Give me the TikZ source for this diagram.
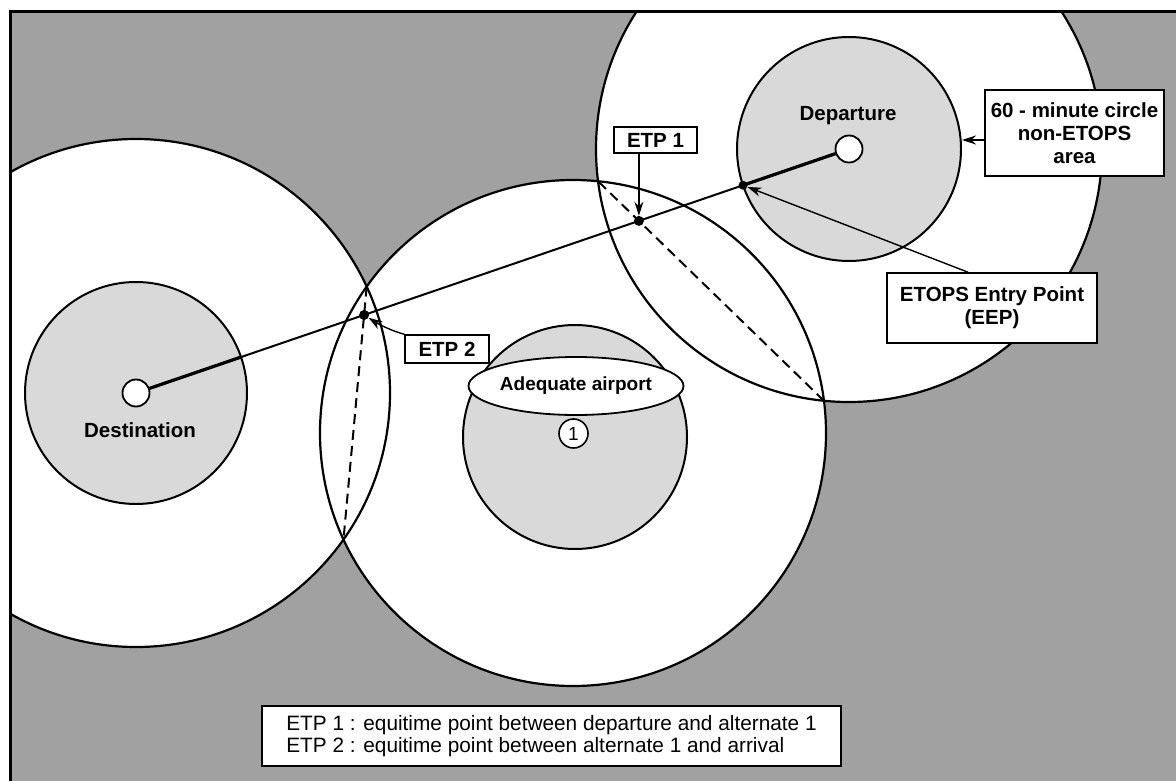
\documentclass[tikz,border=0pt]{standalone}
\usepackage{fontspec}
\setmainfont{Liberation Sans}
\usetikzlibrary{calc,intersections,arrows.meta,shapes.geometric}
\definecolor{bgdark}{gray}{0.63}
\definecolor{bglight}{gray}{0.85}
\begin{document}
\begin{tikzpicture}[x=1pt,y=-1pt,
  bigring/.style={line width=2.2pt},
  innerdisc/.style={circle,draw,line width=2pt,fill=bglight,inner sep=0pt},
  airport/.style={circle,draw,line width=1.8pt,fill=white,inner sep=0pt,minimum size=27pt},
  labelbox/.style={rectangle,draw,line width=1.6pt,fill=white,inner sep=0pt,align=center,font=\bfseries\fontsize{20.5}{23}\selectfont},
  lbl/.style={font=\bfseries\fontsize{20.5}{23}\selectfont,inner sep=0pt},
  route/.style={line width=2pt},
  routethick/.style={line width=3.2pt},
  chord/.style={line width=2pt,dash pattern=on 10pt off 6pt},
  pointer/.style={line width=1.4pt,-{Stealth[length=14pt,width=9pt]}},
  etpdot/.style={circle,fill=black,inner sep=0pt,minimum size=10pt}
]
\useasboundingbox (0,0) rectangle (1176,781);
\coordinate (D) at (136,393);
\coordinate (A) at (573,433);
\coordinate (P) at (849,149);

\path[name path global=cD] (D) circle[radius=254pt];
\path[name path global=cA] (A) circle[radius=253pt];
\path[name path global=cP] (P) circle[radius=253pt];

\begin{scope}
  \clip (10,12) rectangle (1176,781);
  \fill[bgdark] (10,12) rectangle (1176,781);
  \fill[white] (D) circle[radius=254pt];
  \fill[white] (A) circle[radius=253pt];
  \fill[white] (P) circle[radius=253pt];
  \draw[bigring] (D) circle[radius=254pt] (A) circle[radius=253pt] (P) circle[radius=253pt];
  \node[innerdisc,minimum size=222pt] (destin) at (D) {};
  \node[innerdisc,minimum size=224pt] (altin) at (575,437) {};
  \node[innerdisc,minimum size=224pt] (depin) at (P) {};
\end{scope}

% equitime chords
\path[name intersections={of=cP and cA,by={pa1,pa2}}];
\path[name intersections={of=cD and cA,by={da1,da2}}];
\draw[chord,name path=chord1] (pa1) -- (pa2);
\draw[chord,name path=chord2] (da1) -- (da2);

% airports
\node[airport] (dep) at (P) {};
\node[airport] (dest) at (D) {};

% route
\path[name path=routepath] (D) -- (P);
\path[name intersections={of=routepath and chord1,by=etp1}];
\path[name intersections={of=routepath and chord2,by=etp2}];
\coordinate (eep) at ($(P)!112pt!(D)$);
\coordinate (destedge) at ($(D)!111pt!(P)$);
\draw[route] (dest) -- (dep);
\draw[routethick] (dest) -- (destedge);
\draw[routethick] (eep) -- (dep);

\node[etpdot] (etp1dot) at (etp1) {};
\node[etpdot] (etp2dot) at (etp2) {};
\node[etpdot,minimum size=9pt] (eepdot) at (eep) {};

% labels
\node[lbl] (deplbl) at (848,116) {Departure};
\node[lbl] (destlbl) at (140,430) {Destination};
\node[ellipse,draw,line width=1.8pt,fill=white,minimum width=182pt,minimum height=58pt,inner sep=0pt,font=\bfseries\fontsize{19}{22}\selectfont] (adeq) at (576,386) {Adequate airport};
\node[circle,draw,line width=1.6pt,fill=white,minimum size=29pt,inner sep=0pt,font=\fontsize{19}{22}\selectfont] (alt1) at (573.5,433.5) {1};

% boxes
\node[labelbox,minimum width=83pt,minimum height=26pt] (etp1box) at (655.5,140) {ETP 1};
\node[labelbox,minimum width=84pt,minimum height=28pt] (etp2box) at (447,349) {ETP 2};
\node[labelbox,minimum width=179pt,minimum height=86pt] (minbox) at (1074.5,133) {60 - minute circle\\non-ETOPS\\area};
\node[labelbox,minimum width=210pt,minimum height=70pt] (eepbox) at (992,308) {ETOPS Entry Point\\(EEP)};
\node[rectangle,draw,line width=2.8pt,fill=white,minimum width=579pt,minimum height=60pt,inner sep=0pt,align=left,font=\fontsize{20.8}{22.5}\selectfont] (legend) at (551.5,736) {ETP 1 : equitime point between departure and alternate 1\\ETP 2 : equitime point between alternate 1 and arrival};

% pointers
\coordinate (mw) at ([yshift=-7pt]minbox.west);
\draw[pointer] (mw) -- (mw -| depin.east);
\draw[pointer] ([xshift=-24pt]eepbox.north) -- (eepdot);
\draw[pointer] (etp1box.south -| etp1dot) -- (etp1dot);
\draw[pointer] (etp2box.north west) .. controls +(-12,-3) and +(14,9) .. (etp2dot);

% frame
\draw[line width=3pt] (10,800) -- (10,12) -- (1190,12);
\end{tikzpicture}
\end{document}
